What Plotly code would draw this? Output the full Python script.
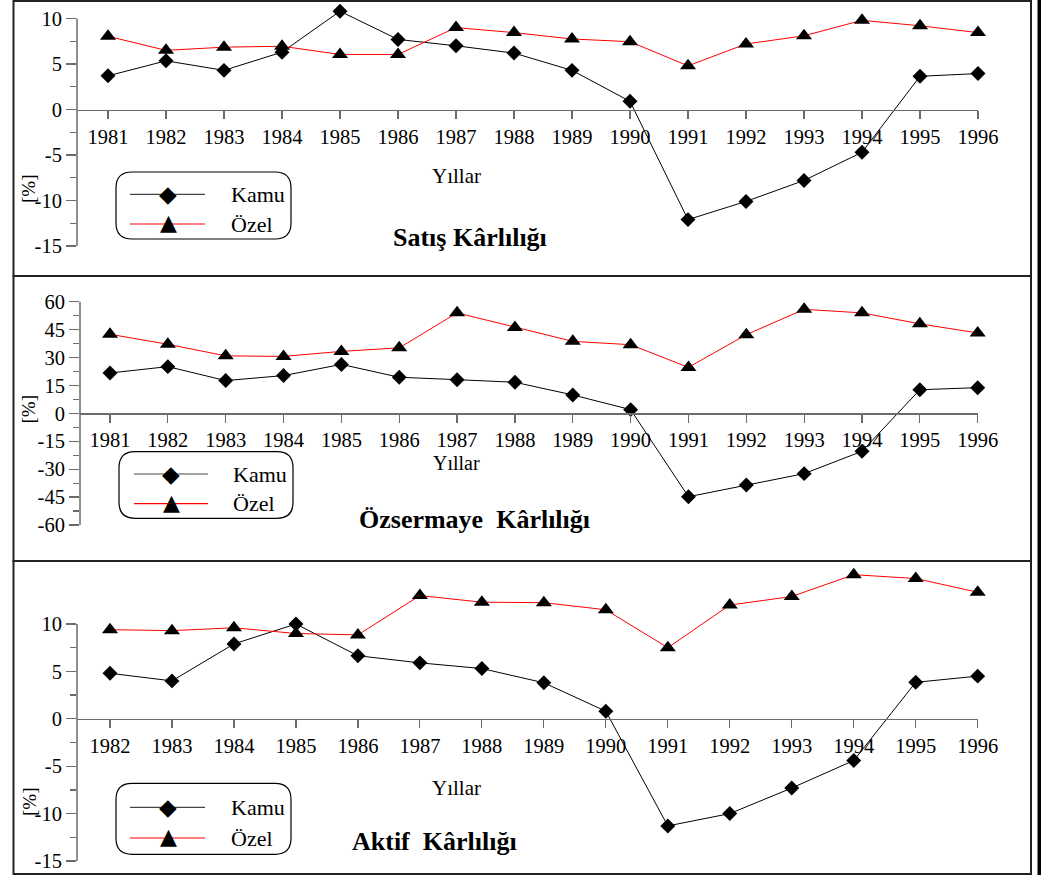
import plotly.graph_objects as go

W, H = 1041, 875

# ---------------- data ----------------
years_a = list(range(1981, 1997))
years_c = list(range(1982, 1997))

satis_kamu = [3.7, 5.35, 4.3, 6.3, 10.8, 7.7, 7.0, 6.2, 4.3, 0.9, -12.1, -10.1, -7.8, -4.7, 3.65, 3.95]
satis_ozel = [8.05, 6.5, 6.85, 6.95, 6.05, 6.05, 9.0, 8.45, 7.75, 7.45, 4.8, 7.2, 8.1, 9.8, 9.2, 8.45]

oz_kamu = [21.7, 25.1, 17.6, 20.3, 26.3, 19.4, 18.1, 16.7, 9.9, 2.0, -44.8, -38.5, -32.4, -20.4, 12.7, 13.8]
oz_ozel = [42.5, 37.1, 30.9, 30.6, 33.3, 35.2, 54.0, 46.2, 38.7, 36.9, 24.7, 42.3, 55.9, 54.0, 48.1, 43.2]

aktif_kamu = [4.8, 4.0, 7.9, 10.0, 6.65, 5.9, 5.3, 3.8, 0.8, -11.3, -10.0, -7.3, -4.4, 3.85, 4.5]
aktif_ozel = [9.4, 9.3, 9.6, 9.0, 8.85, 13.0, 12.3, 12.25, 11.5, 7.5, 12.0, 12.9, 15.2, 14.8, 13.35]

titles = ["Satış Kârlılığı", "Özsermaye \u00a0Kârlılığı", "Aktif \u00a0Kârlılığı"]
series_names = ["Kamu", "Özel"]
x_title = "Yıllar"
y_title = "[%]"

ticks_pct = [-15, -10, -5, 0, 5, 10]
minor_pct = [-12.5, -7.5, -2.5, 2.5, 7.5]
ticks_oz = [-60, -45, -30, -15, 0, 15, 30, 45, 60]
minor_oz = [-52.5, -37.5, -22.5, -7.5, 7.5, 22.5, 37.5, 52.5]

panels_data = [
    dict(years=years_a, kamu=satis_kamu, ozel=satis_ozel, ticks=ticks_pct, minor=minor_pct, title=titles[0]),
    dict(years=years_a, kamu=oz_kamu, ozel=oz_ozel, ticks=ticks_oz, minor=minor_oz, title=titles[1]),
    dict(years=years_c, kamu=aktif_kamu, ozel=aktif_ozel, ticks=ticks_pct, minor=minor_pct, title=titles[2]),
]

# ---------------- layout geometry (pixels) ----------------
geom = [
    dict(axis_px=77, first_px=108, last_px=978, ytop_px=4, vhi_px=18.5, vlo_px=246,
         frame=(1, 276), yl=176, yl_size=21, title=(470, 237), ylab=(29, 189),
         leg=dict(box=(116, 172, 291, 239), rows=(194.3, 224), line=(130, 205), mk=168, txt=229)),
    dict(axis_px=80, first_px=110, last_px=977.7, ytop_px=292, vhi_px=301.7, vlo_px=525,
         frame=(276, 561), yl=462.5, yl_size=20, title=(474, 519), ylab=(28, 409.5),
         leg=dict(box=(119, 451.7, 293, 518.3), rows=(474, 503.7), line=(134, 208), mk=171, txt=231)),
    dict(axis_px=77, first_px=110, last_px=977.7, ytop_px=566, vhi_px=624, vlo_px=861,
         frame=(561, 874), yl=788, yl_size=21, title=(434, 841), ylab=(29, 802),
         leg=dict(box=(116, 783.3, 291, 854.3), rows=(807.3, 838), line=(130, 205), mk=168, txt=229)),
]

FONT = "Liberation Serif"
AX_COL = "#6b6b6b"


def px(x):
    return x / W


def py(y):
    return 1 - y / H


fig = go.Figure()
shapes = []
annotations = []

for i, (pd_, g) in enumerate(zip(panels_data, geom)):
    n = i + 1
    xa = "x" if n == 1 else f"x{n}"
    ya = "y" if n == 1 else f"y{n}"
    yrs = pd_["years"]
    ticks = pd_["ticks"]
    vhi, vlo = ticks[-1], ticks[0]

    spacing = (g["last_px"] - g["first_px"]) / (yrs[-1] - yrs[0])
    x_lo = yrs[0] - (g["first_px"] - g["axis_px"]) / spacing
    x_hi = yrs[-1]
    scale = (g["vlo_px"] - g["vhi_px"]) / (vhi - vlo)
    y_hi = vhi + (g["vhi_px"] - g["ytop_px"]) / scale
    y_lo = vlo
    zero_px = g["vhi_px"] + vhi * scale

    fig.add_trace(go.Scatter(
        x=yrs, y=pd_["kamu"], name=series_names[0], mode="lines+markers",
        line=dict(color="black", width=1),
        marker=dict(symbol="diamond", size=11.5, color="black"),
        xaxis=xa, yaxis=ya, showlegend=False, cliponaxis=False))
    fig.add_trace(go.Scatter(
        x=yrs, y=pd_["ozel"], name=series_names[1], mode="lines+markers",
        line=dict(color="#ff0000", width=1),
        marker=dict(symbol="triangle-up", size=14, color="black"),
        xaxis=xa, yaxis=ya, showlegend=False, cliponaxis=False))

    xkey = "xaxis" if n == 1 else f"xaxis{n}"
    ykey = "yaxis" if n == 1 else f"yaxis{n}"
    fig.layout[xkey] = dict(
        domain=[px(g["axis_px"]), px(g["last_px"])], range=[x_lo, x_hi],
        anchor="free", position=py(zero_px), automargin=False,
        showline=True, linecolor=AX_COL, linewidth=1.5,
        ticks="outside", ticklen=8, tickwidth=1.2, tickcolor=AX_COL,
        tickvals=yrs, ticktext=[str(v) for v in yrs],
        tickfont=dict(family=FONT, size=20.5, color="black"),
        showgrid=False, zeroline=False, fixedrange=True)
    fig.layout[ykey] = dict(
        domain=[py(g["vlo_px"]), py(g["ytop_px"])], range=[y_lo, y_hi],
        anchor=xa, showline=False, automargin=False,
        ticks="outside", ticklen=10, tickwidth=1.2, tickcolor=AX_COL,
        tickvals=ticks, ticktext=[str(v) for v in ticks],
        minor=dict(tickvals=pd_["minor"], ticks="outside", ticklen=6,
                   tickwidth=1.2, tickcolor=AX_COL, showgrid=False),
        tickfont=dict(family=FONT, size=20.5, color="black"),
        showgrid=False, zeroline=False, fixedrange=True)

    # y axis line between lowest and highest tick
    shapes.append(dict(type="line", xref=f"{xa} domain", x0=0, x1=0,
                       yref=ya, y0=vlo, y1=vhi,
                       line=dict(color=AX_COL, width=1.5)))

    # panel frame
    f0, f1 = g["frame"]
    shapes.append(dict(type="rect", xref="paper", yref="paper",
                       x0=px(13.5), x1=px(1031), y0=py(f1), y1=py(f0),
                       line=dict(color="#222222", width=2), layer="below"))

    # axis labels and title
    annotations.append(dict(text=x_title, x=px(456.7), y=py(g["yl"]), xref="paper", yref="paper",
                            xanchor="center", yanchor="middle", showarrow=False,
                            font=dict(family=FONT, size=g["yl_size"], color="black")))
    annotations.append(dict(text=y_title, x=px(g["ylab"][0]), y=py(g["ylab"][1]), xref="paper", yref="paper",
                            xanchor="center", yanchor="middle", showarrow=False, textangle=-90,
                            font=dict(family=FONT, size=19, color="black")))
    annotations.append(dict(text=f"<b>{pd_['title']}</b>", x=px(g["title"][0]), y=py(g["title"][1]),
                            xref="paper", yref="paper", xanchor="center", yanchor="middle",
                            showarrow=False, font=dict(family=FONT, size=26, color="black")))

    # legend box (rounded)
    lg = g["leg"]
    bx0, by0, bx1, by1 = lg["box"]
    r = 16
    path = (f"M {px(bx0 + r)},{py(by0)} L {px(bx1 - r)},{py(by0)} "
            f"Q {px(bx1)},{py(by0)} {px(bx1)},{py(by0 + r)} L {px(bx1)},{py(by1 - r)} "
            f"Q {px(bx1)},{py(by1)} {px(bx1 - r)},{py(by1)} L {px(bx0 + r)},{py(by1)} "
            f"Q {px(bx0)},{py(by1)} {px(bx0)},{py(by1 - r)} L {px(bx0)},{py(by0 + r)} "
            f"Q {px(bx0)},{py(by0)} {px(bx0 + r)},{py(by0)} Z")
    shapes.append(dict(type="path", xref="paper", yref="paper", path=path,
                       line=dict(color="black", width=1.2)))
    for row_y, col, glyph, gsize, dy, name in zip(lg["rows"], ["#444444", "#ff0000"], ["◆", "▲"],
                                                   [23, 22], [0, -1.5], series_names):
        shapes.append(dict(type="line", xref="paper", yref="paper",
                           x0=px(lg["line"][0]), x1=px(lg["line"][1]),
                           y0=py(row_y), y1=py(row_y), line=dict(color=col, width=1.2)))
        annotations.append(dict(text=glyph, x=px(lg["mk"]), y=py(row_y + dy), xref="paper", yref="paper",
                                xanchor="center", yanchor="middle", showarrow=False,
                                font=dict(family="DejaVu Sans", size=gsize, color="black")))
        annotations.append(dict(text=name, x=px(lg["txt"]), y=py(row_y), xref="paper", yref="paper",
                                xanchor="left", yanchor="middle", showarrow=False,
                                font=dict(family=FONT, size=22, color="black")))

# black edge at right
shapes.append(dict(type="rect", xref="paper", yref="paper", x0=px(1037.5), x1=1, y0=0, y1=1,
                   fillcolor="black", line=dict(width=0)))

fig.update_layout(
    width=W, height=H, margin=dict(l=0, r=0, t=0, b=0, autoexpand=False),
    paper_bgcolor="white", plot_bgcolor="rgba(0,0,0,0)",
    showlegend=False, shapes=shapes, annotations=annotations,
    font=dict(family=FONT, color="black"))

fig.write_html("out.html", config={"displayModeBar": False, "staticPlot": True},
               post_script="document.body.style.margin='0';document.body.style.overflow='hidden';")
